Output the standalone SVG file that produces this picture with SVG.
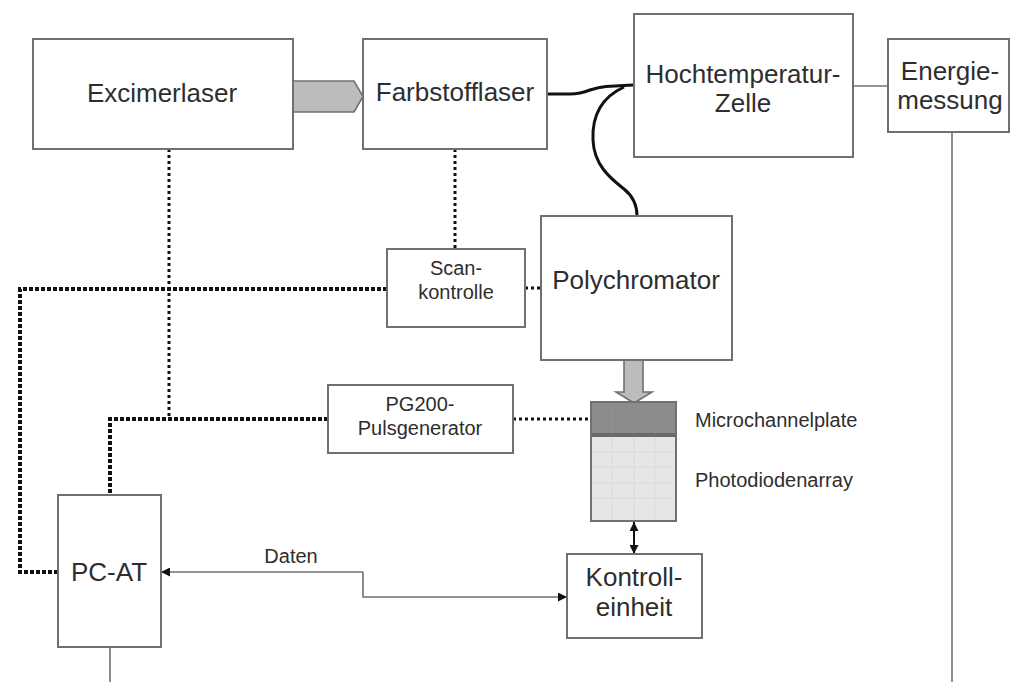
<svg xmlns="http://www.w3.org/2000/svg" width="1010" height="682" viewBox="0 0 1010 682">
<defs>
<style>
.box{fill:#fff;stroke:#707070;stroke-width:2}
.t{font-family:"Liberation Sans",Arial,sans-serif;fill:#2e2e2e;text-anchor:middle}
.big{font-size:26px}
.sm{font-size:20px}
.thin{fill:none;stroke:#707070;stroke-width:1.6}
.dotA{fill:none;stroke:#111;stroke-width:4;stroke-dasharray:4 2}
.dotB{fill:none;stroke:#111;stroke-width:3;stroke-dasharray:3 3}
.curve{fill:none;stroke:#111;stroke-width:3}
.wide{fill:#bcbcbc;stroke:#707070;stroke-width:1.6}
.grid{stroke:#aaa;stroke-width:0.6;opacity:0.3}
</style>
<marker id="ah" viewBox="0 0 10 10" refX="10" refY="5" markerWidth="10" markerHeight="9" markerUnits="userSpaceOnUse" orient="auto-start-reverse">
<path d="M0,0 L10,5 L0,10 z" fill="#111"/>
</marker>
</defs>
<rect width="1010" height="682" fill="#fff"/>

<g id="connectors">
<path class="dotA" d="M387,289 L20,289 L20,572 L58,572"/>
<path class="dotA" d="M328,419 L110,419 L110,495"/>
<path class="dotB" d="M169,149 L169,419"/>
<path class="dotB" d="M455,149 L455,249"/>
<path class="dotB" d="M525,288 L540,288"/>
<path class="dotB" d="M513,419 L591,419"/>
<path class="curve" d="M547,94 L570,94 C580,94 585,92 590,90 C596,88 600,87 606,86.5 L633,85"/>
<path class="curve" d="M624,87 C600,98 592,118 593,140 C594,165 610,178 624,189 C634,197 637,207 637,216"/>
<path class="thin" d="M853,86 L888,86"/>
<path class="thin" d="M952,132 L952,682"/>
<path class="thin" d="M110,647 L110,682"/>
<path class="thin" d="M363,572 L161,572" marker-end="url(#ah)"/>
<path class="thin" d="M363,572 L363,597 L567,597" marker-end="url(#ah)"/>
<path fill="none" stroke="#111" stroke-width="2" d="M634,522 L634,554" marker-start="url(#ah)" marker-end="url(#ah)"/>
<polygon class="wide" points="288,81 354,81 363,96.5 354,112 288,112"/>
<polygon class="wide" points="624,360 643,360 643,392 652,392 634,403 616,392 624,392"/>
</g>

<g id="excimerlaser">
<rect class="box" x="33" y="39" width="260" height="110"/>
<text class="t big" x="162" y="102">Excimerlaser</text>
</g>
<g id="farbstofflaser">
<rect class="box" x="363" y="39" width="184" height="110"/>
<text class="t big" x="455" y="101">Farbstofflaser</text>
</g>
<g id="hochtemperatur-zelle">
<rect class="box" x="634" y="14" width="219" height="143"/>
<text class="t big" x="743" y="83">Hochtemperatur-</text>
<text class="t big" x="743" y="112">Zelle</text>
</g>
<g id="energiemessung">
<rect class="box" x="888" y="39" width="121" height="93"/>
<text class="t big" x="950" y="80">Energie-</text>
<text class="t big" x="950" y="109">messung</text>
</g>
<g id="polychromator">
<rect class="box" x="541" y="216" width="191" height="144"/>
<text class="t big" x="636" y="289">Polychromator</text>
</g>
<g id="scankontrolle">
<rect class="box" x="387" y="249" width="138" height="78"/>
<text class="t sm" x="456" y="275">Scan-</text>
<text class="t sm" x="456" y="299">kontrolle</text>
</g>
<g id="pg200">
<rect class="box" x="328" y="385" width="185" height="68"/>
<text class="t sm" x="420" y="411">PG200-</text>
<text class="t sm" x="420" y="435">Pulsgenerator</text>
</g>
<g id="detector">
<rect x="591" y="402" width="85" height="35" fill="#8c8c8c"/>
<rect x="591" y="433" width="85" height="4" fill="#6a6a6a"/>
<rect x="591" y="437" width="85" height="84" fill="#e6e6e6"/>
<g class="grid">
<line x1="612" y1="402" x2="612" y2="521"/>
<line x1="634" y1="402" x2="634" y2="521"/>
<line x1="655" y1="402" x2="655" y2="521"/>
<line x1="591" y1="452" x2="676" y2="452"/>
<line x1="591" y1="467" x2="676" y2="467"/>
<line x1="591" y1="483" x2="676" y2="483"/>
<line x1="591" y1="498" x2="676" y2="498"/>
</g>
<rect x="591" y="402" width="85" height="119" fill="none" stroke="#707070" stroke-width="2"/>
<text class="t sm" x="695" y="427" style="text-anchor:start">Microchannelplate</text>
<text class="t sm" x="695" y="487" style="text-anchor:start">Photodiodenarray</text>
</g>
<g id="kontrolleinheit">
<rect class="box" x="567" y="554" width="135" height="84"/>
<text class="t big" x="634" y="586">Kontroll-</text>
<text class="t big" x="634" y="616">einheit</text>
</g>
<g id="pc-at">
<rect class="box" x="58" y="495" width="103" height="152"/>
<text class="t big" x="109" y="581">PC-AT</text>
</g>
<text class="t sm" x="291" y="563">Daten</text>
</svg>
